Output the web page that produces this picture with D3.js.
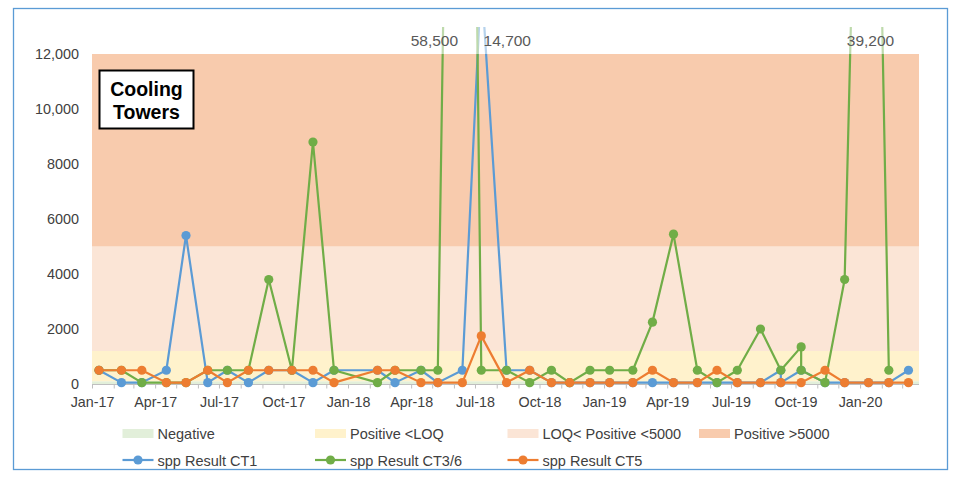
<!DOCTYPE html>
<html>
<head>
<meta charset="utf-8">
<script src="https://cdn.jsdelivr.net/npm/d3@7"></script>
<style>
  body { margin: 0; background: #fff; }
  svg { display: block; font-family: "Liberation Sans", Arial, sans-serif; }
</style>
</head>
<body>
<div id="chart"></div>
<script>
// monthly sampling rounds
var sampleDates = ["2017-01-11","2017-02-12","2017-03-13","2017-04-17","2017-05-15","2017-06-15",
  "2017-07-13","2017-08-12","2017-09-10","2017-10-13","2017-11-12","2017-12-12","2018-02-12",
  "2018-03-09","2018-04-15","2018-05-09","2018-06-13","2018-07-10","2018-08-15","2018-09-17",
  "2018-10-18","2018-11-13","2018-12-12","2019-01-09","2019-02-11","2019-03-11","2019-04-10",
  "2019-05-14","2019-06-11","2019-07-10","2019-08-12","2019-09-10","2019-10-09","2019-11-12",
  "2019-12-10","2020-01-13","2020-02-11","2020-03-10"];

var ct1Values = [500,50,50,500,5400,50,500,50,500,500,50,500,500,50,500,50,500,14700,500,500,
  50,50,50,50,50,50,50,50,50,50,50,500,500,50,50,50,50,500];
var ct36Values = [500,500,50,50,50,500,500,500,3800,500,8800,500,50,500,500,500,58500,500,500,50,
  500,50,500,500,500,2250,5450,500,50,500,2000,500,1350,50,3800,39200,500,null];
var ct5Values = [500,500,500,50,50,500,50,500,500,500,500,50,500,500,50,50,50,1750,50,500,
  50,50,50,50,50,500,50,50,500,50,50,50,50,500,50,50,50,50];

// repeat samples taken on the same day
var ct1Repeats = [["2019-09-10", 50]];
var ct36Repeats = [["2019-10-09", 500]];

var seriesNames = ["spp Result CT1", "spp Result CT3/6", "spp Result CT5"];
var seriesColors = ["#5B9BD5", "#70AD47", "#ED7D31"];

var bandNames = ["Negative", "Positive <LOQ", "LOQ< Positive <5000", "Positive >5000"];
var bandLimits = [0, 100, 1200, 5000, 12000];
var bandColors = ["#E2EFDA", "#FFF2CC", "#FBE5D6", "#F8CBAD"];

var yTickValues = [0, 2000, 4000, 6000, 8000, 10000, 12000];
var yTickLabels = ["0", "2000", "4000", "6000", "8000", "10,000", "12,000"];

// values above the axis, written at the top
var peakLabels = [["2018-06-13", "58,500", -28], ["2018-07-10", "14,700", 26], ["2020-01-13", "39,200", 2]];

var parseDate = d3.timeParse("%Y-%m-%d");

function buildSeries(values, repeats){
    var pts = [];
    sampleDates.forEach(function(d, i){
        if (values[i] === null) return;
        pts.push({date: parseDate(d), value: values[i]});
        repeats.forEach(function(r){
            if (r[0] === d) pts.push({date: parseDate(r[0]), value: r[1]});
        });
    });
    return pts;
}

var series = [buildSeries(ct1Values, ct1Repeats), buildSeries(ct36Values, ct36Repeats), buildSeries(ct5Values, [])];

var W = 955, H = 477;
var svg = d3.select("#chart").append("svg").attr("width", W).attr("height", H);

var x = d3.scaleTime()
    .domain([parseDate("2017-01-01"), parseDate("2020-03-25")])
    .range([92, 919]);
var y = d3.scaleLinear().domain([0, 12000]).range([384, 54]);

// outer frame
svg.append("rect")
    .attr("x", 13.5).attr("y", 8.5).attr("width", 934).attr("height", 461)
    .attr("fill", "#fff").attr("stroke", "#5B9BD5").attr("stroke-width", 1.3);

// result bands
svg.append("g").selectAll("rect")
    .data(bandColors)
    .join("rect")
      .attr("x", x.range()[0])
      .attr("width", x.range()[1] - x.range()[0])
      .attr("y", function(d, i){ return y(bandLimits[i + 1]); })
      .attr("height", function(d, i){ return y(bandLimits[i]) - y(bandLimits[i + 1]); })
      .attr("fill", function(d){ return d; });

// y axis, labels only
var yAxis = svg.append("g")
    .attr("transform", "translate(" + x.range()[0] + ",0)")
    .call(d3.axisLeft(y).tickValues(yTickValues).tickSize(0).tickPadding(13)
        .tickFormat(function(d, i){ return yTickLabels[i]; }));
yAxis.select(".domain").remove();
yAxis.selectAll("text").attr("font-size", 14.4).attr("fill", "#404040").attr("font-family", null);

// x axis: monthly ticks, label every quarter
var xAxis = svg.append("g")
    .attr("transform", "translate(0," + 384.5 + ")")
    .call(d3.axisBottom(x).ticks(d3.timeMonth.every(1)).tickSize(4).tickPadding(8)
        .tickFormat(function(d){ return d.getMonth() % 3 === 0 ? d3.timeFormat("%b-%y")(d) : ""; }));
xAxis.select(".domain").attr("stroke", "#BFBFBF").attr("d", "M" + x.range()[0] + ",0H" + x.range()[1]);
xAxis.selectAll("line").attr("stroke", "#BFBFBF");
xAxis.selectAll("text").attr("font-size", 14.3).attr("fill", "#404040").attr("font-family", null);

// clip lines a little above the plot top
svg.append("clipPath").attr("id", "clip")
  .append("rect").attr("x", 0).attr("y", 27).attr("width", W).attr("height", H);

var plot = svg.append("g").attr("clip-path", "url(#clip)");
var line = d3.line()
    .x(function(d){ return x(d.date); })
    .y(function(d){ return y(d.value); });

series.forEach(function(s, k){
    plot.append("path")
        .datum(s)
        .attr("fill", "none")
        .attr("stroke", seriesColors[k])
        .attr("stroke-width", 2.2)
        .attr("stroke-linejoin", "round")
        .attr("d", line);
    plot.append("g").selectAll("circle")
        .data(s)
        .join("circle")
          .attr("cx", function(d){ return x(d.date); })
          .attr("cy", function(d){ return y(d.value); })
          .attr("r", 4.6)
          .attr("fill", seriesColors[k]);
});

// fade the part above the axis maximum
svg.append("rect")
    .attr("x", x.range()[0]).attr("y", 27)
    .attr("width", x.range()[1] - x.range()[0]).attr("height", y(12000) - 27)
    .attr("fill", "#fff").attr("opacity", 0.55);

svg.append("g").selectAll("text")
    .data(peakLabels)
    .join("text")
      .attr("x", function(d){ return x(parseDate(d[0])) + d[2]; })
      .attr("y", 40)
      .attr("text-anchor", "middle")
      .attr("dominant-baseline", "central")
      .attr("font-size", 15.5)
      .attr("fill", "#595959")
      .text(function(d){ return d[1]; });

// title box
var box = svg.append("g");
box.append("rect")
    .attr("x", 99.5).attr("y", 70.5).attr("width", 94).attr("height", 58)
    .attr("fill", "#fff").attr("stroke", "#000").attr("stroke-width", 2);
box.selectAll("text")
    .data(["Cooling", "Towers"])
    .join("text")
      .attr("x", 146.5)
      .attr("y", function(d, i){ return 88.5 + i * 23.5; })
      .attr("text-anchor", "middle")
      .attr("dominant-baseline", "central")
      .attr("font-size", 19.5)
      .attr("font-weight", "bold")
      .attr("fill", "#000")
      .text(function(d){ return d; });

// legend
var legendX = [122.5, 315, 507.5, 699];
var legend = svg.append("g").attr("font-size", 14.5).attr("fill", "#404040");

bandNames.forEach(function(name, i){
    legend.append("rect")
        .attr("x", legendX[i]).attr("y", 429).attr("width", 31).attr("height", 9)
        .attr("fill", bandColors[i]);
    legend.append("text")
        .attr("x", legendX[i] + 35).attr("y", 433.5)
        .attr("dominant-baseline", "central")
        .text(name);
});

seriesNames.forEach(function(name, i){
    legend.append("line")
        .attr("x1", legendX[i]).attr("x2", legendX[i] + 31)
        .attr("y1", 460).attr("y2", 460)
        .attr("stroke", seriesColors[i]).attr("stroke-width", 2.2);
    legend.append("circle")
        .attr("cx", legendX[i] + 15.5).attr("cy", 460).attr("r", 4.6)
        .attr("fill", seriesColors[i]);
    legend.append("text")
        .attr("x", legendX[i] + 35).attr("y", 460.5)
        .attr("dominant-baseline", "central")
        .text(name);
});
</script>
</body>
</html>
